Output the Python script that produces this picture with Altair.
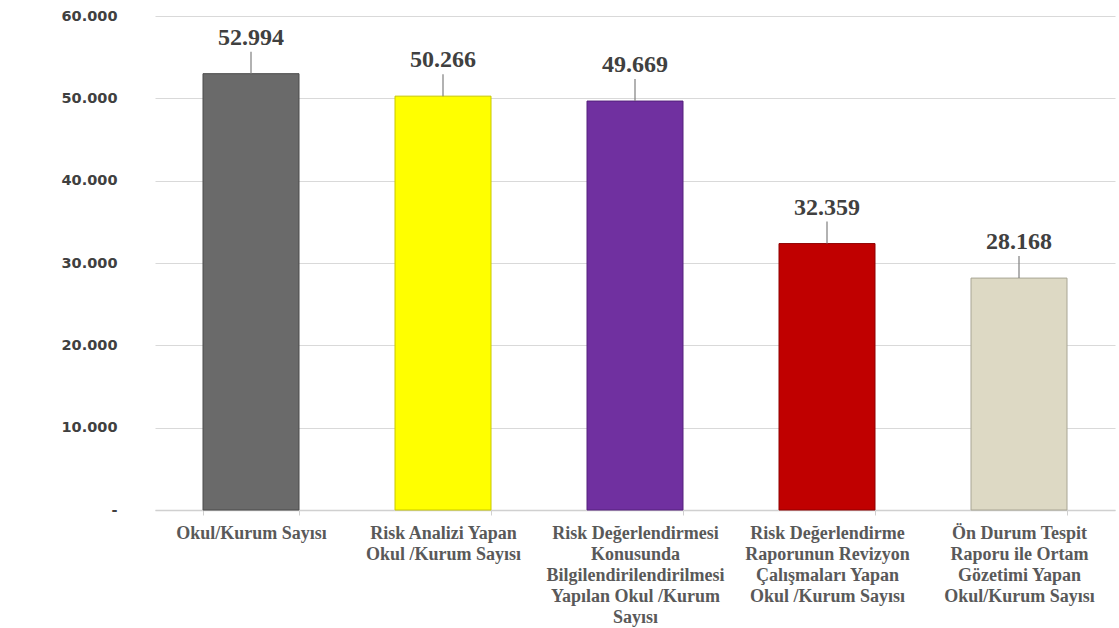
import altair as alt
import pandas as pd

categories = [
    "Okul/Kurum Sayısı",
    "Risk Analizi Yapan\nOkul /Kurum Sayısı",
    "Risk Değerlendirmesi\nKonusunda\nBilgilendirilendirilmesi\nYapılan Okul /Kurum\nSayısı",
    "Risk Değerlendirme\nRaporunun Revizyon\nÇalışmaları Yapan\nOkul /Kurum Sayısı",
    "Ön Durum Tespit\nRaporu ile Ortam\nGözetimi Yapan\nOkul/Kurum Sayısı",
]
values = [52994, 50266, 49669, 32359, 28168]
colors = ["#6a6a6a", "#ffff00", "#7030a0", "#c00000", "#ddd9c4"]
strokes = ["#4a4a4a", "#c8c800", "#55207c", "#8f0000", "#a8a594"]
y_ticks = [0, 10000, 20000, 30000, 40000, 50000, 60000]

df = pd.DataFrame({"cat": categories, "value": values, "color": colors, "stroke": strokes})

x = alt.X(
    "cat:N",
    sort=categories,
    title=None,
    scale=alt.Scale(paddingInner=0.5, paddingOuter=0.25),
    axis=alt.Axis(
        labelAngle=0,
        labelExpr="split(datum.label, '\\n')",
        labelFont="Liberation Serif",
        labelFontWeight="bold",
        labelFontSize=18,
        labelColor="#595959",
        labelLineHeight=21,
        labelPadding=9,
        labelLimit=300,
        domainColor="#d0d0d0",
        domainWidth=1.5,
        tickBand="extent",
        tickColor="#d0d0d0",
        tickSize=5,
        grid=False,
    ),
)

y_scale = alt.Scale(domain=[0, 60000])

bars = alt.Chart(df).mark_bar(strokeWidth=1).encode(
    x=x,
    y=alt.Y(
        "value:Q",
        scale=y_scale,
        title=None,
        axis=alt.Axis(
            values=y_ticks,
            labelExpr="datum.value == 0 ? '-' : replace(format(datum.value, ',.0f'), ',', '.')",
            labelFont="DejaVu Sans",
            labelFontWeight="bold",
            labelFontSize=14.5,
            labelColor="#404040",
            labelPadding=38,
            domain=False,
            ticks=False,
            gridColor="#d9d9d9",
            gridWidth=1.2,
        ),
    ),
    color=alt.Color("color:N", scale=None),
    stroke=alt.Stroke("stroke:N", scale=None),
)

leaders = alt.Chart(df).mark_rule(color="#7f7f7f", strokeWidth=1.2, y2Offset=-22).encode(
    x=alt.X("cat:N", sort=categories),
    y=alt.Y("value:Q", scale=y_scale),
    y2=alt.Y2("value:Q"),
)

labels = alt.Chart(df).mark_text(
    dy=-36,
    baseline="middle",
    font="Liberation Serif",
    fontWeight="bold",
    fontSize=24,
    color="#404040",
).encode(
    x=alt.X("cat:N", sort=categories),
    y=alt.Y("value:Q", scale=y_scale),
    text=alt.Text("label:N"),
).transform_calculate(label="replace(format(datum.value, ',.0f'), ',', '.')")

chart = (
    alt.layer(bars, leaders, labels)
    .properties(
        width=960,
        height=494,
        autosize=alt.AutoSizeParams(type="none"),
        padding={"left": 155, "top": 16, "right": 4, "bottom": 118},
        background="white",
    )
    .configure_view(stroke=None)
)

chart.save("out.html", embed_options={"renderer": "svg", "actions": False})
